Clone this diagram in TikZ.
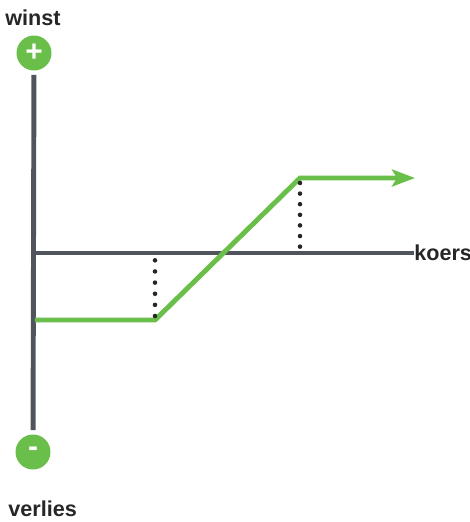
\documentclass[tikz,border=0pt]{standalone}
\usepackage{fontspec}
\setmainfont{Liberation Sans}
\usetikzlibrary{arrows.meta}
\definecolor{winstgreen}{HTML}{6ABF4B}
\definecolor{axisgray}{HTML}{50545C}
\begin{document}
\begin{tikzpicture}[x=0.02cm, y=-0.02cm,
	sign/.style={circle, fill=winstgreen, minimum size=0.7cm, inner sep=0pt, outer sep=2.5pt, text=white, font=\fontsize{17}{17}\selectfont\bfseries},
	label/.style={font=\fontsize{12.3}{13}\selectfont\bfseries, text=black!85, inner sep=0pt},
	axis/.style={draw=axisgray, line width=2.8pt},
	payoff/.style={draw=winstgreen, line width=2.8pt, line join=miter},
	hint/.style={black!85, line width=2.6pt, line cap=round, dash pattern=on 0pt off #1}]
				\useasboundingbox (0,0) rectangle (470,522);
				\node[label, anchor=west] (winst)at(5, 18) {winst};
				\node[sign] (plus)at(34, 53) {+};
				\node[sign] (minus)at(33, 452) {-};
				\node[label, anchor=west] (verlies)at(8, 509) {verlies};
				\coordinate (origin)at(35, 253);
				\node[label, anchor=west] (koers)at(414, 253) {koers};
				\coordinate (low)at(35, 320);
				\coordinate (knee1)at(155, 320);
				\coordinate (knee2)at(300, 178);
				\coordinate (end)at(415, 178);
				\coordinate (foot1)at(155, 253);
				\coordinate (foot2)at(300, 253);
				\draw[axis] (plus) -- (minus);
				\draw[axis] ([xshift=-1.4pt]origin) -- (origin -| koers.west);
				\draw[payoff, -{Stealth[length=0.46cm, width=0.34cm, inset=0.1cm]}] (low) -- (knee1) -- (knee2) -- (end);
				\draw[hint=6.34pt] ([yshift=2.27pt]knee1) -- ([yshift=-3.97pt]foot1);
				\draw[hint=6.04pt] ([yshift=-2.83pt]knee2) -- ([yshift=3.4pt]foot2);
			\end{tikzpicture}
\end{document}
